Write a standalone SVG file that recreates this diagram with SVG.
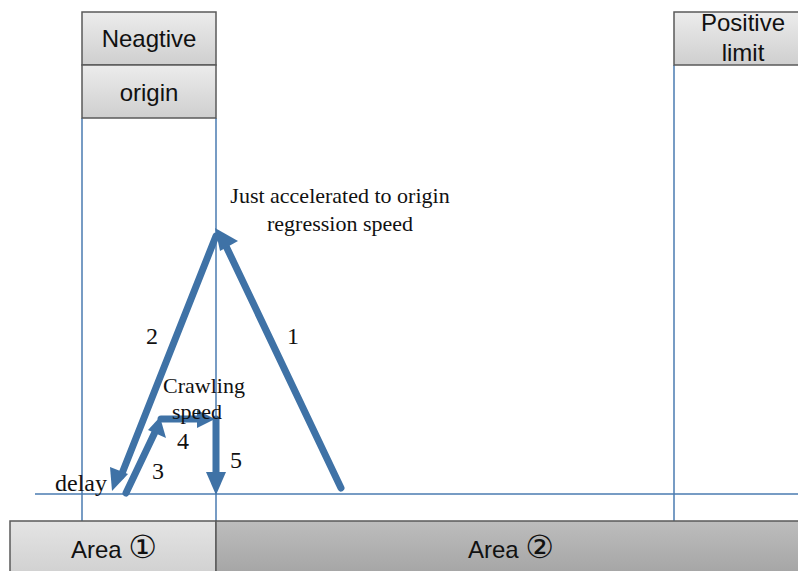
<svg xmlns="http://www.w3.org/2000/svg" width="798" height="571" viewBox="0 0 798 571">
<style>
.box{stroke:#5a5a5a;stroke-width:1.5}
.thin{stroke:#4a7bb0;stroke-width:1.5;fill:none}
.arr{stroke:#3f72a6;stroke-width:7;fill:none;stroke-linecap:round}
.head{fill:#3f72a6}
.lbl{font-family:"Liberation Sans","Open Sans",sans-serif;font-size:24px;fill:#111;text-anchor:middle}
.t{font-family:"Liberation Serif","DejaVu Serif",serif;font-size:22px;fill:#111;text-anchor:middle}
.n{font-size:24px}
.c{font-family:"DejaVu Sans",sans-serif;font-size:32px}
</style>
<defs>
<linearGradient id="g1" x1="0" y1="0" x2="0" y2="1"><stop offset="0" stop-color="#ececec"/><stop offset="1" stop-color="#cfcfcf"/></linearGradient>
<linearGradient id="g2" x1="0" y1="0" x2="0" y2="1"><stop offset="0" stop-color="#bdbdbd"/><stop offset="1" stop-color="#a4a4a4"/></linearGradient>
<linearGradient id="g3" x1="0" y1="0" x2="0" y2="1"><stop offset="0" stop-color="#e4e4e4"/><stop offset="1" stop-color="#d0d0d0"/></linearGradient>
</defs>

<g id="guides">
<line class="thin" x1="82" y1="118" x2="82" y2="521"/>
<line class="thin" x1="216" y1="118" x2="216" y2="521"/>
<line class="thin" x1="674" y1="65" x2="674" y2="521"/>
<line class="thin" x1="35" y1="494" x2="798" y2="494"/>
</g>

<g id="neg">
<rect class="box" x="82" y="12" width="134" height="53" fill="url(#g1)"/>
<text class="lbl" x="149" y="47">Neagtive</text>
</g>
<g id="origin">
<rect class="box" x="82" y="65" width="134" height="53" fill="url(#g1)"/>
<text class="lbl" x="149" y="101">origin</text>
</g>
<g id="poslimit">
<rect class="box" x="674" y="12" width="130" height="53" fill="url(#g1)"/>
<text class="lbl" x="743" y="31" font-size="25">Positive</text>
<text class="lbl" x="743" y="61" font-size="25">limit</text>
</g>
<g id="area1">
<rect class="box" x="10" y="521" width="206" height="55" fill="url(#g3)"/>
<text class="lbl" x="114" y="558">Area <tspan class="c">①</tspan></text>
</g>
<g id="area2">
<rect class="box" x="216" y="521" width="590" height="55" fill="url(#g2)"/>
<text class="lbl" x="511" y="558">Area <tspan class="c">②</tspan></text>
</g>

<g id="connectors">
<line class="arr" x1="341" y1="488" x2="225" y2="244"/>
<polygon class="head" points="215,228 238,241 220,251"/>
<line class="arr" x1="216" y1="236" x2="121" y2="476"/>
<polygon class="head" points="112,491 110,467 128,474"/>
<line class="arr" x1="126" y1="493" x2="156" y2="430"/>
<polygon class="head" points="160,417 166,438 148,430"/>
<line class="arr" x1="161" y1="419" x2="200" y2="419"/>
<polygon class="head" points="215,419 197,410 197,428"/>
<line class="arr" x1="216" y1="419" x2="216" y2="476"/>
<polygon class="head" points="216,495 206,472 226,472"/>
</g>

<g id="labels">
<text class="t" x="340" y="203">Just accelerated to origin</text>
<text class="t" x="340" y="231">regression speed</text>
<text class="t n" x="293" y="344">1</text>
<text class="t n" x="152" y="344">2</text>
<text class="t" x="204" y="393" font-size="20">Crawling</text>
<text class="t" x="197" y="419" font-size="20">speed</text>
<text class="t n" x="183" y="449">4</text>
<text class="t n" x="158" y="479">3</text>
<text class="t n" x="236" y="468">5</text>
<text class="t n" x="81" y="491">delay</text>
</g>
</svg>
